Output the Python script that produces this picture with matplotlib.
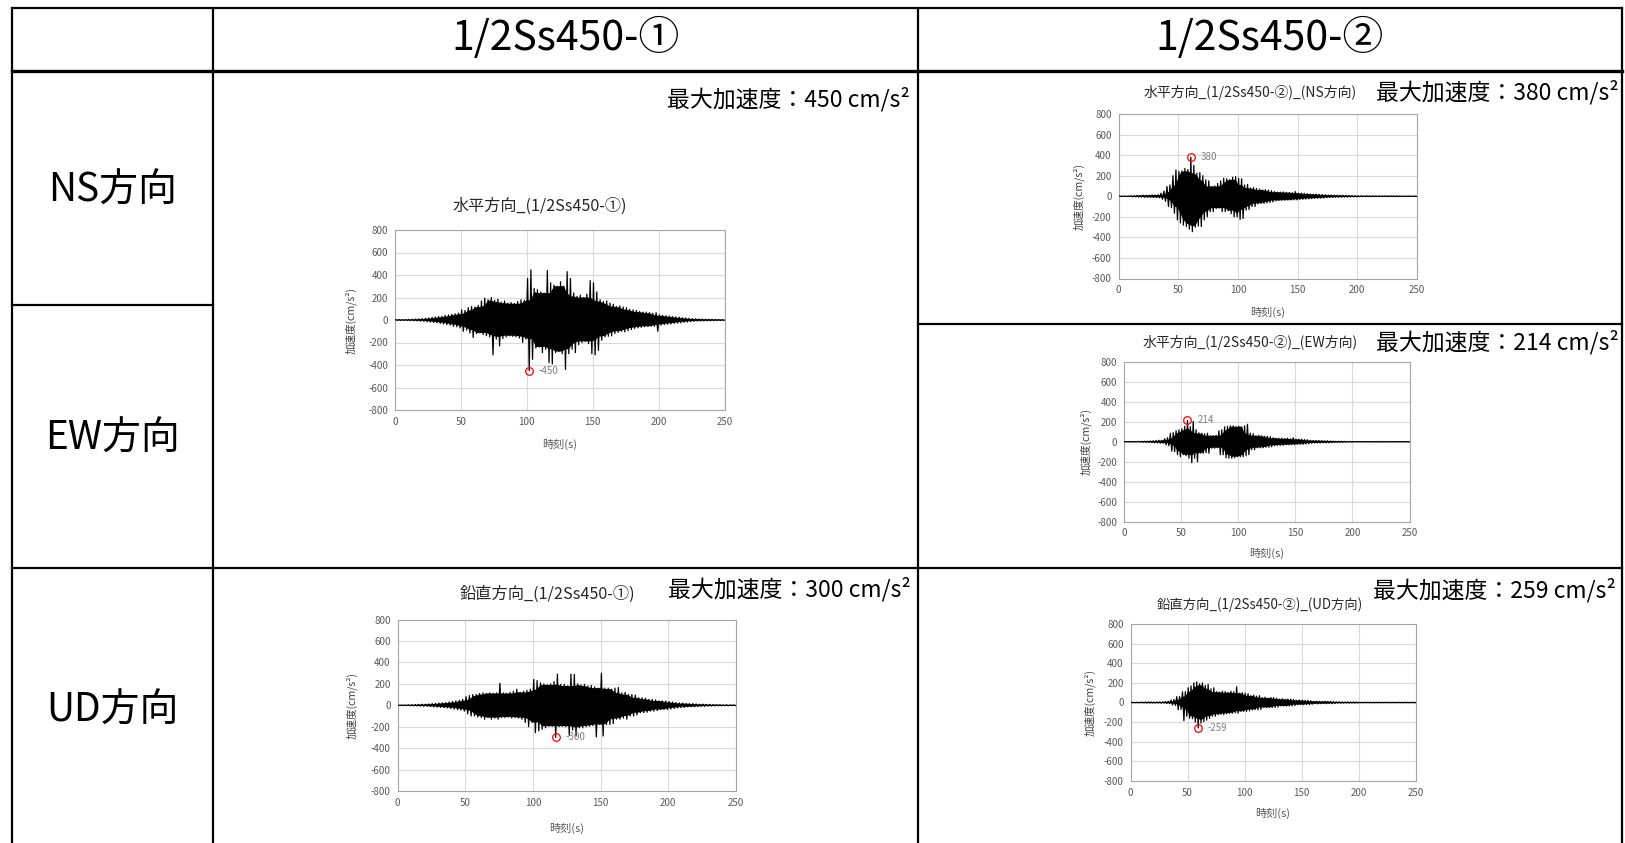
import numpy as np
import matplotlib
matplotlib.use("Agg")
import matplotlib.pyplot as plt

plt.rcParams['font.family'] = ['Noto Sans CJK JP', 'DejaVu Sans']
plt.rcParams['axes.unicode_minus'] = False

# ---------------- data (peak values per 2.5 s window) ----------------
BIN = 2.5
col_titles = ["1/2Ss450-①", "1/2Ss450-②"]
row_titles = ["NS方向", "EW方向", "UD方向"]
chart_titles = ["水平方向_(1/2Ss450-①)", "水平方向_(1/2Ss450-②)_(NS方向)",
                "水平方向_(1/2Ss450-②)_(EW方向)", "鉛直方向_(1/2Ss450-①)",
                "鉛直方向_(1/2Ss450-②)_(UD方向)"]
max_acc = [450, 380, 214, 300, 259]
xticks = [0, 50, 100, 150, 200, 250]
yticks = [-800, -600, -400, -200, 0, 200, 400, 600, 800]

A_up = [2, 3, 3, 4, 5, 6, 8, 10, 12, 15,
        18, 22, 25, 30, 32, 40, 45, 50, 55, 60,
        90, 85, 110, 120, 115, 130, 170, 195, 180, 200,
        175, 185, 160, 170, 150, 155, 145, 165, 180, 175,
        370, 445, 280, 270, 250, 240, 440, 330, 310, 300,
        340, 300, 430, 370, 240, 210, 220, 200, 230, 350,
        330, 250, 180, 165, 170, 150, 140, 120, 125, 115,
        110, 95, 90, 85, 75, 70, 70, 65, 60, 65,
        45, 40, 38, 35, 30, 28, 25, 20, 18, 15,
        12, 10, 9, 8, 7, 6, 5, 5, 4, 3]
A_lo = [-2, -3, -3, -4, -5, -6, -8, -10, -12, -15,
        -18, -22, -25, -30, -35, -40, -45, -55, -60, -70,
        -100, -90, -115, -155, -120, -115, -130, -140, -150, -310,
        -170, -230, -165, -150, -140, -145, -150, -160, -200, -170,
        -450, -350, -250, -240, -290, -260, -380, -390, -290, -280,
        -300, -440, -300, -260, -290, -220, -200, -190, -210, -300,
        -310, -270, -180, -150, -145, -140, -120, -110, -100, -105,
        -95, -85, -75, -70, -65, -60, -58, -55, -55, -100,
        -45, -40, -38, -35, -30, -28, -25, -20, -18, -15,
        -12, -10, -9, -8, -7, -6, -5, -5, -4, -3]

B_up = [2, 2, 3, 3, 5, 6, 8, 8, 10, 10,
        10, 12, 12, 15, 30, 50, 95, 110, 200, 255,
        240, 245, 270, 260, 380, 300, 225, 230, 200, 160,
        150, 95, 100, 125, 150, 175, 170, 160, 185, 190,
        175, 170, 110, 115, 80, 85, 75, 70, 60, 65,
        60, 55, 45, 40, 40, 42, 38, 36, 35, 45,
        30, 30, 28, 25, 22, 20, 20, 18, 17, 15,
        12, 11, 10, 10, 9, 8, 8, 7, 6, 5,
        4, 4, 3, 3, 3, 3, 3, 3, 3, 3,
        3, 3, 3, 3, 3, 3, 2, 2, 2, 2]
B_lo = [-2, -2, -3, -3, -5, -6, -8, -8, -10, -10,
        -10, -12, -12, -15, -30, -50, -100, -110, -165, -230,
        -260, -280, -295, -320, -345, -300, -290, -295, -230, -200,
        -150, -150, -120, -115, -150, -150, -140, -170, -200, -200,
        -225, -215, -135, -130, -100, -100, -75, -70, -70, -65,
        -60, -55, -45, -40, -40, -40, -38, -36, -35, -35,
        -30, -30, -28, -25, -22, -20, -20, -18, -17, -15,
        -12, -11, -10, -10, -9, -8, -8, -7, -6, -5,
        -4, -4, -3, -3, -3, -3, -3, -3, -3, -3,
        -3, -3, -3, -3, -3, -3, -2, -2, -2, -2]

C_up = [2, 2, 2, 2, 2, 4, 5, 6, 6, 8,
        10, 12, 15, 15, 30, 40, 85, 90, 110, 120,
        130, 155, 214, 150, 205, 120, 90, 85, 80, 85,
        60, 60, 65, 110, 120, 150, 155, 160, 160, 150,
        155, 150, 160, 175, 85, 80, 60, 65, 60, 55,
        55, 50, 40, 35, 35, 35, 30, 35, 30, 40,
        25, 25, 25, 22, 20, 15, 12, 12, 12, 10,
        10, 10, 8, 6, 5, 5, 5, 4, 3, 3,
        2, 2, 2, 2, 2, 2, 2, 2, 2, 2,
        2, 2, 2, 2, 2, 2, 2, 2, 2, 2]
C_lo = [-2, -2, -2, -2, -2, -4, -5, -6, -6, -8,
        -10, -12, -15, -15, -30, -40, -95, -100, -130, -150,
        -130, -140, -165, -210, -165, -200, -115, -115, -110, -115,
        -65, -65, -60, -130, -130, -160, -165, -165, -160, -150,
        -150, -150, -140, -130, -80, -80, -60, -60, -60, -55,
        -55, -50, -40, -35, -35, -35, -30, -30, -30, -30,
        -25, -25, -25, -22, -20, -15, -12, -12, -12, -10,
        -10, -10, -8, -6, -5, -5, -5, -4, -3, -3,
        -2, -2, -2, -2, -2, -2, -2, -2, -2, -2,
        -2, -2, -2, -2, -2, -2, -2, -2, -2, -2]

D_up = [2, 3, 3, 4, 5, 6, 8, 10, 10, 12,
        15, 18, 20, 22, 25, 30, 35, 40, 45, 55,
        80, 90, 100, 100, 110, 115, 110, 115, 110, 115,
        205, 115, 110, 120, 130, 150, 120, 130, 140, 150,
        240, 230, 210, 200, 190, 200, 220, 290, 195, 195,
        180, 290, 287, 200, 190, 195, 180, 185, 170, 160,
        298, 160, 160, 150, 160, 165, 115, 120, 100, 100,
        95, 70, 70, 65, 55, 55, 50, 40, 40, 40,
        35, 30, 25, 22, 20, 15, 15, 15, 12, 10,
        10, 8, 8, 6, 5, 5, 4, 4, 3, 3]
D_lo = [-2, -3, -3, -4, -5, -6, -8, -10, -10, -12,
        -15, -18, -20, -22, -25, -30, -35, -40, -45, -55,
        -80, -100, -100, -110, -115, -130, -115, -130, -120, -130,
        -115, -115, -110, -120, -115, -120, -130, -160, -200, -160,
        -255, -240, -225, -210, -195, -195, -300, -200, -195, -200,
        -280, -230, -287, -210, -210, -200, -195, -190, -295, -180,
        -287, -180, -180, -170, -130, -130, -120, -130, -100, -100,
        -90, -70, -70, -65, -55, -55, -50, -40, -40, -40,
        -35, -30, -25, -22, -20, -15, -15, -15, -12, -10,
        -10, -8, -8, -6, -5, -5, -4, -4, -3, -3]

E_up = [2, 2, 2, 2, 4, 5, 5, 5, 5, 5,
        6, 6, 10, 12, 25, 30, 60, 60, 110, 110,
        150, 170, 200, 210, 190, 200, 175, 185, 140, 150,
        110, 105, 115, 110, 100, 115, 110, 160, 95, 100,
        95, 90, 70, 75, 65, 70, 50, 55, 45, 50,
        50, 45, 35, 38, 32, 35, 35, 30, 22, 25,
        22, 20, 22, 18, 12, 14, 12, 10, 12, 10,
        12, 10, 6, 7, 6, 5, 6, 5, 6, 5,
        2, 2, 2, 2, 2, 2, 2, 2, 2, 2,
        2, 2, 2, 2, 2, 2, 2, 2, 2, 2]
E_lo = [-2, -2, -2, -2, -4, -5, -5, -5, -5, -5,
        -6, -6, -10, -12, -25, -30, -75, -70, -185, -140,
        -160, -165, -200, -259, -210, -195, -180, -160, -140, -140,
        -125, -120, -125, -115, -110, -110, -105, -110, -90, -90,
        -90, -85, -75, -70, -75, -70, -50, -50, -50, -50,
        -50, -45, -35, -35, -35, -35, -35, -30, -22, -22,
        -22, -20, -22, -18, -12, -14, -12, -10, -12, -10,
        -12, -10, -6, -7, -6, -5, -6, -5, -6, -5,
        -2, -2, -2, -2, -2, -2, -2, -2, -2, -2,
        -2, -2, -2, -2, -2, -2, -2, -2, -2, -2]

series = [(A_up, A_lo), (B_up, B_lo), (C_up, C_lo), (D_up, D_lo), (E_up, E_lo)]

# ---------------- layout (pixels in a 1625 x 843 canvas) ----------------
W, H = 1625, 843
fig = plt.figure(figsize=(W / 100, H / 100), dpi=100)
bg = fig.add_axes([0, 0, 1, 1])
bg.set_xlim(0, W)
bg.set_ylim(H, 0)
bg.axis('off')

X_L, X_C1, X_C2, X_R = 12, 213, 918, 1622
Y_T, Y_HDR, Y_R1L, Y_R1R, Y_R2 = 8, 71, 305, 324, 568
lw_tab = 1.6
for x in (X_L, X_C1, X_C2, X_R):
    bg.plot([x, x], [Y_T, H], color='black', lw=lw_tab, solid_capstyle='butt')
bg.plot([X_L, X_R], [Y_T, Y_T], color='black', lw=lw_tab)
bg.plot([X_L, X_R], [Y_HDR, Y_HDR], color='black', lw=2.4)
bg.plot([X_L, X_C1], [Y_R1L, Y_R1L], color='black', lw=lw_tab)
bg.plot([X_C2, X_R], [Y_R1R, Y_R1R], color='black', lw=lw_tab)
bg.plot([X_L, X_R], [Y_R2, Y_R2], color='black', lw=lw_tab)

bg.text((X_C1 + X_C2) / 2, 38, col_titles[0], ha='center', va='center', fontsize=29.5)
bg.text((X_C2 + X_R) / 2, 38, col_titles[1], ha='center', va='center', fontsize=29.5)
for txt, yy in zip(row_titles, [191, 439, 711]):
    bg.text((X_L + X_C1) / 2, yy, txt, ha='center', va='center', fontsize=28)

# max acceleration labels: (right x, center y)
max_pos = [(910, 99), (1619, 92), (1619, 342), (911, 589), (1616, 590)]
for v, (xr, yc) in zip(max_acc, max_pos):
    bg.text(xr, yc, f"最大加速度：{v} cm/s²", ha='right', va='center', fontsize=16.5)

# chart rectangles (left, top, right, bottom) in px
rects = [(395, 230, 724.5, 410), (1118.5, 114, 1417, 278.5), (1124, 362, 1409.5, 521.5),
         (397.5, 619.5, 736, 791), (1130.5, 624, 1415.5, 781)]
title_pos = [(540, 206), (1250, 93), (1250, 343), (547, 594), (1260, 605)]
title_fs = [11.6, 10, 10, 11.7, 9.6]
ylab_off = [38, 33.5, 32, 40, 34.5]
xlab_y = [439, 307, 548, 823, 808]

for k, ((up, lo), (l, t, r, b)) in enumerate(zip(series, rects)):
    ax = fig.add_axes([l / W, 1 - b / H, (r - l) / W, (b - t) / H])
    up = np.asarray(up, float)
    lo = np.asarray(lo, float)
    n = len(up)
    t_up = np.arange(n) * BIN + 0.6
    t_lo = np.arange(n) * BIN + 1.85
    # solid body: the read peaks without isolated spikes (lowest of 5 neighbouring windows)
    up_pad = np.r_[up[0], up[0], up, up[-1], up[-1]]
    lo_pad = np.r_[lo[0], lo[0], lo, lo[-1], lo[-1]]
    body_up = np.min(np.vstack([up_pad[j:j + n] for j in range(5)]), axis=0)
    body_lo = np.max(np.vstack([lo_pad[j:j + n] for j in range(5)]), axis=0)
    ax.fill(np.r_[0, t_up, n * BIN, t_lo[::-1]], np.r_[0, body_up, 0, body_lo[::-1]],
            color='black', lw=0, zorder=2)
    # oscillation through the read peaks
    tt = np.empty(2 * n + 2)
    yy = np.empty(2 * n + 2)
    tt[0], yy[0] = 0.0, 0.0
    tt[1:-1:2] = t_up
    yy[1:-1:2] = up
    tt[2:-1:2] = t_lo
    yy[2:-1:2] = lo
    tt[-1], yy[-1] = n * BIN, 0.0
    ax.plot(tt, yy, color='black', lw=0.9, zorder=3)
    i = int(np.argmax(np.abs(yy)))
    ax.plot(tt[i], yy[i], 'o', ms=5.5, mfc='none', mec='#ff0000', mew=0.9, zorder=4)
    ax.annotate(f"{int(round(yy[i]))}", (tt[i], yy[i]), xytext=(7, 0),
                textcoords='offset points', va='center', ha='left',
                fontsize=7, color='#7f7f7f', zorder=5)
    ax.set_xlim(0, 250)
    ax.set_ylim(-800, 800)
    ax.set_xticks(xticks)
    ax.set_yticks(yticks)
    ax.grid(True, color='#d9d9d9', lw=0.8)
    ax.set_axisbelow(True)
    ax.tick_params(length=0, labelsize=7, colors='#595959', pad=5)
    for s in ax.spines.values():
        s.set_color('#a6a6a6')
        s.set_linewidth(0.8)
    ax.set_ylabel("加速度(cm/s²)", fontsize=7.6, color='#404040')
    ax.yaxis.set_label_coords(-ylab_off[k] / (r - l), 0.5)
    ax.set_xlabel("時刻(s)", fontsize=8, color='#595959')
    ax.xaxis.set_label_coords(0.5, -(xlab_y[k] - b) / (b - t))
    bg.text(title_pos[k][0], title_pos[k][1], chart_titles[k], ha='center', va='center',
            fontsize=title_fs[k], color='#262626')

fig.savefig("out.png", dpi=100)
